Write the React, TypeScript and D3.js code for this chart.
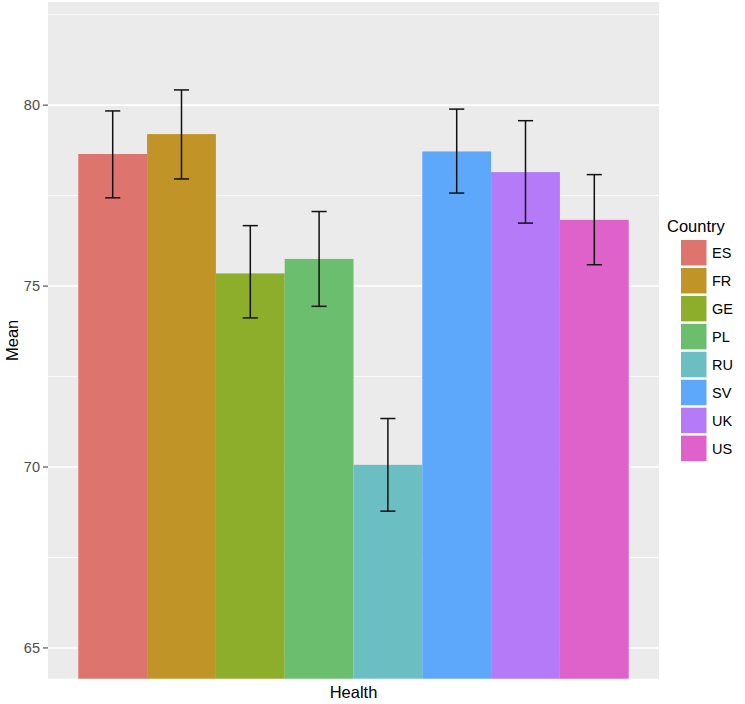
import React from "react";
import * as d3 from "d3";

const countries = ["ES", "FR", "GE", "PL", "RU", "SV", "UK", "US"];
const means = [78.65, 79.2, 75.35, 75.75, 70.06, 78.72, 78.15, 76.83];
const lowers = [77.44, 77.96, 74.12, 74.44, 68.78, 77.57, 76.74, 75.59];
const uppers = [79.84, 80.42, 76.67, 77.06, 71.34, 79.89, 79.57, 78.08];
const colors = ["#DD746D", "#C09426", "#8DAE2A", "#6ABE6D", "#6BBFC3", "#5DA8FA", "#B47AF8", "#DE62C9"];
const majorTicks = [65, 70, 75, 80];
const minorTicks = [67.5, 72.5, 77.5, 82.5];
const xCategory = "Health";
const yTitle = "Mean";
const legendTitle = "Country";

const W = 745;
const H = 704;
const panel = { left: 48, right: 659, top: 2, bottom: 678.7 };
const font = "'Liberation Sans', Arial, Helvetica, sans-serif";

export default function App() {
  const y = d3.scaleLinear().domain([64.15, 82.85]).range([panel.bottom, panel.top]);
  const x = d3.scaleBand<string>().domain(countries).range([78.3, 628.7]).paddingInner(0).paddingOuter(0);
  const bw = x.bandwidth();
  const capW = bw * 0.22;
  const cx = (panel.left + panel.right) / 2;
  const cy = (panel.top + panel.bottom) / 2;

  return (
    <svg width={W} height={H} style={{ position: "absolute", left: 0, top: 0, background: "#fff" }} fontFamily={font}>
      <rect x={panel.left} y={panel.top} width={panel.right - panel.left} height={panel.bottom - panel.top} fill="#EBEBEB" />
      {minorTicks.map((t) => (
        <line key={"mi" + t} x1={panel.left} x2={panel.right} y1={y(t)} y2={y(t)} stroke="#fff" strokeWidth={0.8} />
      ))}
      {majorTicks.map((t) => (
        <line key={"ma" + t} x1={panel.left} x2={panel.right} y1={y(t)} y2={y(t)} stroke="#fff" strokeWidth={1.6} />
      ))}
      {countries.map((c, i) => (
        <rect key={"b" + c} x={x(c)!} y={y(means[i])} width={bw} height={panel.bottom - y(means[i])} fill={colors[i]} />
      ))}
      {countries.map((c, i) => {
        const mx = x(c)! + bw / 2;
        return (
          <g key={"e" + c} stroke="#111" strokeWidth={1.5}>
            <line x1={mx} x2={mx} y1={y(uppers[i])} y2={y(lowers[i])} />
            <line x1={mx - capW / 2} x2={mx + capW / 2} y1={y(uppers[i])} y2={y(uppers[i])} />
            <line x1={mx - capW / 2} x2={mx + capW / 2} y1={y(lowers[i])} y2={y(lowers[i])} />
          </g>
        );
      })}
      {majorTicks.map((t) => (
        <g key={"t" + t}>
          <line x1={panel.left - 5} x2={panel.left} y1={y(t)} y2={y(t)} stroke="#333" strokeWidth={1} />
          <text x={panel.left - 8} y={y(t)} dy="0.36em" textAnchor="end" fontSize={14.5} fill="#4D4D4D">
            {t}
          </text>
        </g>
      ))}
      <text x={cx} y={698} textAnchor="middle" fontSize={16.5} fill="#000">
        {xCategory}
      </text>
      <text transform={`translate(18,${cy}) rotate(-90)`} textAnchor="middle" fontSize={16.5} fill="#000">
        {yTitle}
      </text>
      <text x={667} y={231.5} fontSize={16.5} fill="#000">
        {legendTitle}
      </text>
      {countries.map((c, i) => (
        <g key={"l" + c} transform={`translate(681,${240 + i * 27.95})`}>
          <rect x={0} y={0} width={25.5} height={25.5} fill={colors[i]} />
          <text x={31} y={12.75} dy="0.36em" fontSize={14.5} fill="#000">
            {c}
          </text>
        </g>
      ))}
    </svg>
  );
}
